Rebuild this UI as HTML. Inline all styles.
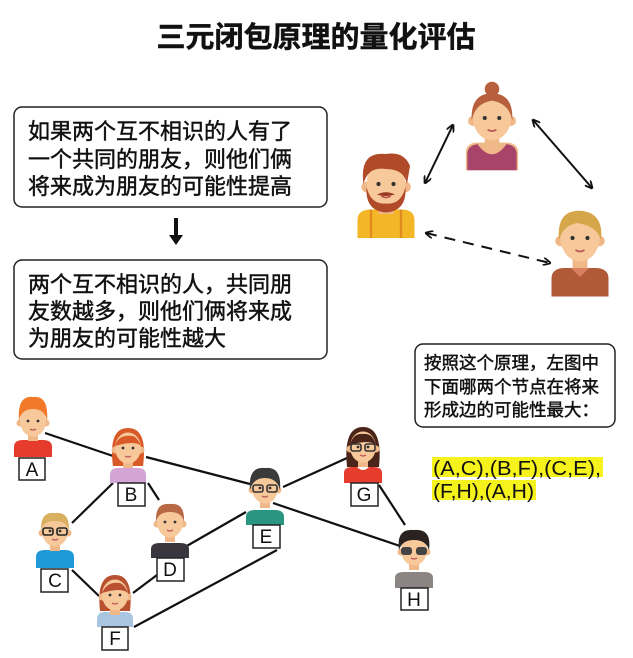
<!DOCTYPE html>
<html><head><meta charset="utf-8"><style>
html,body{margin:0;padding:0;background:#fff;width:633px;height:658px;overflow:hidden}
svg{display:block}
.t{font-family:"Liberation Sans","Noto Sans CJK SC",sans-serif;fill:#111}
.w{stroke:#111;stroke-width:0.45}
</style></head><body>
<svg width="633" height="658" viewBox="0 0 633 658" xmlns="http://www.w3.org/2000/svg">
<defs>
<marker id="ah" markerWidth="8" markerHeight="8" refX="7" refY="4" orient="auto-start-reverse" markerUnits="userSpaceOnUse">
<path d="M0,0 L8,4 L0,8" fill="none" stroke="#111" stroke-width="1.8"/></marker>
<g id="face">
<circle cx="-13" cy="2" r="3.5" fill="#f0b888"/><circle cx="13" cy="2" r="3.5" fill="#f0b888"/>
<rect x="-5" y="10" width="10" height="10" fill="#f0b888"/>
<ellipse cx="0" cy="0" rx="13" ry="15.5" fill="#f6c89a"/>
<circle cx="-5" cy="0" r="1.4" fill="#333"/><circle cx="5" cy="0" r="1.4" fill="#333"/>
<path d="M-3,8 Q0,10 3,8" stroke="#b55" stroke-width="1.2" fill="none"/>
</g>
</defs>
<text class="t w" x="316" y="47" font-size="29" font-weight="bold" text-anchor="middle" stroke-width="0.8">三元闭包原理的量化评估</text>

<rect x="14" y="107" width="313" height="100" rx="8" fill="#fff" stroke="#222" stroke-width="1.5"/>
<g class="t w" font-size="22"><text x="28" y="139">如果两个互不相识的人有了</text><text x="28" y="167">一个共同的朋友，则他们俩</text><text x="28" y="194">将来成为朋友的可能性提高</text></g>
<path d="M176,218 V238" stroke="#111" stroke-width="4"/><path d="M169,235 L176,245 L183,235 Z" fill="#111"/>
<rect x="14" y="260" width="313" height="99" rx="8" fill="#fff" stroke="#222" stroke-width="1.5"/>
<g class="t w" font-size="22"><text x="28" y="292">两个互不相识的人，共同朋</text><text x="28" y="319">友数越多，则他们俩将来成</text><text x="28" y="346">为朋友的可能性越大</text></g>

<rect x="415" y="344" width="200" height="83" rx="8" fill="#fff" stroke="#222" stroke-width="1.5"/>
<g class="t w" font-size="17.5" stroke-width="0.35"><text x="424" y="369">按照这个原理，左图中</text><text x="424" y="393">下面哪两个节点在将来</text><text x="424" y="416">形成边的可能性最大：</text></g>
<rect x="432" y="457" width="171" height="20" fill="#f5f21c"/>
<rect x="432" y="480" width="104" height="20" fill="#f5f21c"/>
<g class="t" font-size="20"><text x="433" y="475" textLength="168" lengthAdjust="spacingAndGlyphs">(A,C),(B,F),(C,E),</text><text x="433" y="498" textLength="101" lengthAdjust="spacingAndGlyphs">(F,H),(A,H)</text></g>

<!-- triad arrows -->
<g stroke="#111" stroke-width="2" fill="none">
<line x1="425" y1="183" x2="453" y2="125" marker-start="url(#ah)" marker-end="url(#ah)"/>
<line x1="533" y1="120" x2="592" y2="188" marker-start="url(#ah)" marker-end="url(#ah)"/>
<line x1="426" y1="233" x2="550" y2="263" stroke-dasharray="11,8" marker-start="url(#ah)" marker-end="url(#ah)"/>
</g>
<!-- woman top -->
<g transform="translate(492,118) scale(1.45)">
<path d="M-18,36 V24 Q-18,17 -10,17 H10 Q18,17 18,24 V36 Z" fill="#f0b888"/>
<path d="M-17,36 V25 Q-17,19 -10,18 Q0,32 10,18 Q17,19 17,25 V36 Z" fill="#a8446a"/>
<use href="#face"/>
<path d="M-14,2 Q-15,-17 0,-17 Q15,-17 14,2 Q12,-10 0,-12 Q-12,-10 -14,2Z" fill="#b8603e"/>
<circle cx="0" cy="-20" r="5" fill="#b8603e"/>
</g>
<!-- man left -->
<g transform="translate(386,184) scale(1.5)">
<path d="M-19,36 V24 Q-19,17 -10,17 H10 Q19,17 19,24 V36 Z" fill="#f2b626"/>
<path d="M-10,17 V36 M10,17 V36" stroke="#e08a20" stroke-width="1.5"/>
<use href="#face"/>
<path d="M-13,2 Q-14,18 0,19 Q14,18 13,2 Q10,14 0,13 Q-10,14 -13,2Z" fill="#b04a28"/>
<path d="M-6,7 Q0,4 6,7 Q0,9 -6,7Z" fill="#9a3a20"/>
<path d="M-15,0 Q-18,-22 0,-20 Q12,-22 16,-12 L14,0 Q12,-10 0,-10 Q-12,-12 -15,0Z" fill="#b04a28"/>
</g>
<!-- man right -->
<g transform="translate(580,238) scale(1.5)">
<path d="M-19,39 V27 Q-19,20 -10,20 H10 Q19,20 19,27 V39 Z" fill="#b05a38"/>
<path d="M-6,20 L0,26 L6,20" fill="#d98060"/>
<use href="#face"/>
<path d="M-14,2 Q-16,-20 2,-18 Q16,-16 14,2 Q12,-8 -2,-10 Q-12,-8 -14,2Z" fill="#d6a64a"/>
</g>

<!-- network edges -->
<g stroke="#111" stroke-width="2.2">
<line x1="45" y1="433" x2="113" y2="456"/>
<line x1="146" y1="457" x2="250" y2="484"/>
<line x1="113" y1="483" x2="72" y2="523"/>
<line x1="148" y1="483" x2="159" y2="500"/>
<line x1="72" y1="570" x2="100" y2="597"/>
<line x1="157" y1="575" x2="133" y2="593"/>
<line x1="185" y1="547" x2="246" y2="512"/>
<line x1="277" y1="550" x2="134" y2="627"/>
<line x1="283" y1="487" x2="347" y2="458"/>
<line x1="273" y1="503" x2="400" y2="546"/>
<line x1="379" y1="485" x2="405" y2="525"/>
</g>

<!-- A -->
<g transform="translate(33,421)">
<path d="M-19,36 V26 Q-19,19 -10,19 H10 Q19,19 19,26 V36 Z" fill="#e53c2e"/><use href="#face"/>
<path d="M-14,0 Q-16,-26 0,-24 Q16,-26 14,0 Q12,-12 0,-12 Q-12,-12 -14,0Z" fill="#f07a2a"/>
</g>
<!-- B -->
<g transform="translate(128,448)">
<path d="M-18,35 V27 Q-18,20 -10,20 H10 Q18,20 18,27 V35 Z" fill="#d3a5d6"/>
<path d="M-15,18 Q-20,-20 0,-20 Q20,-20 15,18 Z" fill="#d95a28"/><use href="#face"/>
<path d="M-13,-2 Q-10,-14 5,-12 Q10,-10 13,-2 Q8,-8 -13,-2Z" fill="#d95a28"/>
</g>
<!-- C -->
<g transform="translate(55,531)">
<path d="M-19,37 V26 Q-19,19 -10,19 H10 Q19,19 19,26 V37 Z" fill="#1f98d8"/><use href="#face"/>
<path d="M-14,0 Q-15,-20 0,-18 Q15,-20 14,0 Q12,-10 0,-10 Q-12,-10 -14,0Z" fill="#d8b060"/>
<g fill="none" stroke="#222" stroke-width="1.6"><rect x="-12" y="-3" width="10" height="7" rx="2"/><rect x="2" y="-3" width="10" height="7" rx="2"/></g>
</g>
<!-- D -->
<g transform="translate(170,522)">
<path d="M-19,36 V27 Q-19,21 -10,21 H10 Q19,21 19,27 V36 Z" fill="#3a3640"/><use href="#face"/>
<path d="M-14,0 Q-15,-20 0,-18 Q15,-20 14,0 Q12,-10 0,-10 Q-12,-10 -14,0Z" fill="#b96846"/>
</g>
<!-- E -->
<g transform="translate(265,488)">
<path d="M-19,37 V29 Q-19,22 -10,22 H10 Q19,22 19,29 V37 Z" fill="#2a9580"/><use href="#face"/>
<path d="M-15,2 Q-17,-22 0,-20 Q17,-22 15,2 Q12,-10 0,-10 Q-12,-10 -15,2Z" fill="#3a3a3a"/>
<g fill="none" stroke="#333" stroke-width="1.6"><rect x="-12" y="-3" width="10" height="7" rx="2"/><rect x="2" y="-3" width="10" height="7" rx="2"/></g>
</g>
<!-- F -->
<g transform="translate(115,595)">
<path d="M-18,32 V24 Q-18,17 -10,17 H10 Q18,17 18,24 V32 Z" fill="#a8c6e0"/>
<path d="M-15,16 Q-19,-20 0,-20 Q19,-20 15,16 Z" fill="#b95030"/><use href="#face"/>
<path d="M-13,-2 Q-8,-14 5,-12 Q10,-10 13,-2 Q6,-8 -13,-2Z" fill="#b95030"/>
</g>
<!-- G -->
<g transform="translate(363,447)">
<path d="M-19,36 V26 Q-19,20 -10,20 H10 Q19,20 19,26 V36 Z" fill="#e53c2e"/>
<path d="M-6,20 Q0,26 6,20 Z" fill="#fff"/>
<path d="M-16,20 Q-20,-20 0,-20 Q20,-20 16,20 Z" fill="#4a2418"/><use href="#face"/>
<path d="M-13,-2 Q-10,-14 0,-13 Q10,-14 13,-2 Q6,-8 -13,-2Z" fill="#4a2418"/>
<g fill="none" stroke="#333" stroke-width="1.6"><rect x="-12" y="-3" width="10" height="7" rx="2"/><rect x="2" y="-3" width="10" height="7" rx="2"/></g>
</g>
<!-- H -->
<g transform="translate(414,550)">
<path d="M-19,38 V28 Q-19,22 -10,22 H10 Q19,22 19,28 V38 Z" fill="#8a8582"/><use href="#face"/>
<path d="M-15,0 Q-18,-22 0,-20 Q18,-22 15,0 Q12,-10 0,-10 Q-12,-10 -15,0Z" fill="#2a2220"/>
<g fill="#444"><rect x="-13" y="-3" width="11" height="8" rx="3"/><rect x="2" y="-3" width="11" height="8" rx="3"/></g>
</g>

<!-- labels -->
<g fill="#fff" stroke="#222" stroke-width="1.5">
<rect x="19" y="458" width="26" height="22"/><rect x="118" y="483" width="27" height="23"/>
<rect x="41" y="569" width="27" height="23"/><rect x="157" y="558" width="27" height="23"/>
<rect x="253" y="525" width="27" height="23"/><rect x="102" y="627" width="26" height="23"/>
<rect x="351" y="483" width="27" height="23"/><rect x="401" y="588" width="27" height="22"/>
</g>
<g class="t" font-size="19" text-anchor="middle">
<text x="32" y="476">A</text><text x="131" y="501">B</text><text x="55" y="587">C</text><text x="170" y="576">D</text>
<text x="266" y="543">E</text><text x="115" y="645">F</text><text x="364" y="501">G</text><text x="414" y="606">H</text>
</g>
</svg>
</body></html>
